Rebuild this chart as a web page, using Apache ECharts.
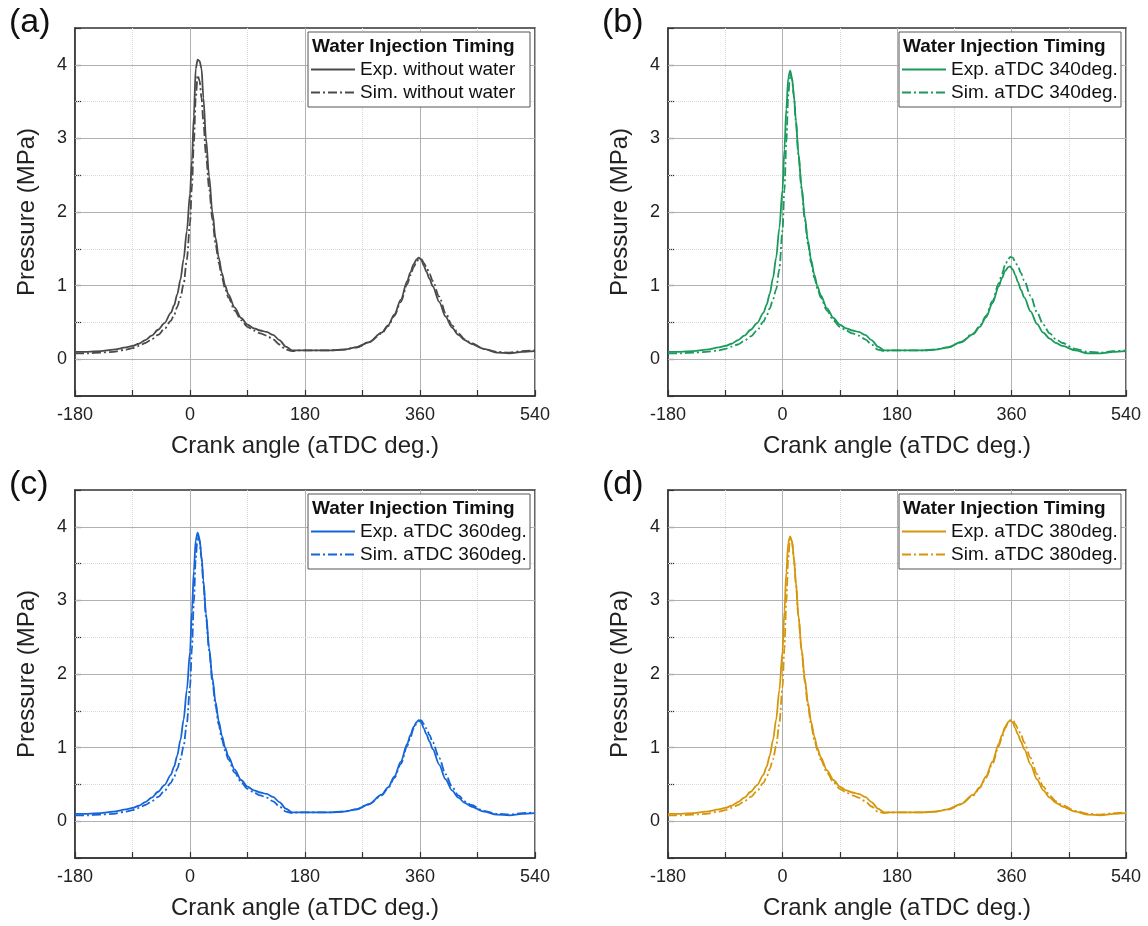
<!DOCTYPE html>
<html>
<head>
<meta charset="utf-8">
<script src="https://cdn.jsdelivr.net/npm/echarts@6/dist/echarts.min.js"></script>
<style>
  html, body { margin: 0; padding: 0; background: #fff; }
  #chart { width: 1148px; height: 926px; }
</style>
</head>
<body>
<div id="chart"></div>
<script>
// crank angle samples (aTDC deg.), shared by every curve
const angles = [-180, -160, -140, -120, -100, -90, -80, -70, -60, -50, -40, -30, -25, -20, -15, -10, -5, 0, 3, 6,
  9, 12, 15, 18, 21, 25, 30, 35, 40, 45, 50, 55, 60, 70, 80, 90, 100, 110, 120, 130,
  140, 150, 160, 170, 180, 200, 220, 240, 260, 280, 300, 310, 320, 330, 340, 345, 350, 355, 358, 362,
  366, 370, 375, 380, 390, 400, 410, 420, 430, 440, 460, 480, 500, 520, 540];

// (a) without water
const expA = [0.10, 0.10, 0.11, 0.13, 0.16, 0.18, 0.21, 0.26, 0.32, 0.40, 0.49, 0.63, 0.73, 0.88, 1.08, 1.36, 1.74, 2.25, 2.70, 3.30,
  3.95, 4.07, 4.05, 3.95, 3.55, 3.00, 2.48, 2.00, 1.65, 1.38, 1.17, 1.00, 0.88, 0.70, 0.56, 0.47, 0.42, 0.39, 0.37, 0.33,
  0.26, 0.17, 0.12, 0.12, 0.12, 0.12, 0.12, 0.13, 0.16, 0.23, 0.36, 0.46, 0.61, 0.81, 1.06, 1.18, 1.29, 1.36, 1.38, 1.35,
  1.27, 1.19, 1.09, 0.99, 0.78, 0.58, 0.43, 0.33, 0.26, 0.21, 0.14, 0.09, 0.08, 0.10, 0.11];
const simA = [0.08, 0.08, 0.09, 0.10, 0.13, 0.15, 0.18, 0.22, 0.27, 0.33, 0.41, 0.52, 0.60, 0.71, 0.84, 1.02, 1.35, 1.85, 2.35, 2.95,
  3.55, 3.86, 3.78, 3.55, 3.22, 2.78, 2.32, 1.90, 1.57, 1.31, 1.11, 0.96, 0.84, 0.66, 0.53, 0.44, 0.39, 0.35, 0.32, 0.27,
  0.20, 0.13, 0.11, 0.12, 0.12, 0.12, 0.12, 0.13, 0.16, 0.23, 0.35, 0.45, 0.59, 0.78, 1.02, 1.14, 1.25, 1.33, 1.36, 1.36,
  1.31, 1.25, 1.16, 1.06, 0.85, 0.63, 0.46, 0.35, 0.27, 0.22, 0.14, 0.10, 0.09, 0.11, 0.12];

// (b) aTDC 340deg.
const expB = [0.10, 0.10, 0.11, 0.13, 0.16, 0.18, 0.21, 0.26, 0.32, 0.40, 0.49, 0.63, 0.74, 0.89, 1.10, 1.38, 1.78, 2.30, 2.85, 3.40,
  3.82, 3.92, 3.82, 3.58, 3.25, 2.80, 2.34, 1.94, 1.61, 1.35, 1.15, 0.99, 0.87, 0.69, 0.56, 0.47, 0.42, 0.39, 0.37, 0.33,
  0.26, 0.17, 0.12, 0.12, 0.12, 0.12, 0.12, 0.13, 0.16, 0.23, 0.34, 0.44, 0.57, 0.76, 0.99, 1.10, 1.20, 1.25, 1.26, 1.22,
  1.14, 1.05, 0.94, 0.84, 0.65, 0.48, 0.36, 0.28, 0.22, 0.18, 0.12, 0.08, 0.08, 0.10, 0.11];
const simB = [0.08, 0.08, 0.09, 0.10, 0.12, 0.14, 0.17, 0.20, 0.25, 0.31, 0.39, 0.51, 0.59, 0.69, 0.81, 0.95, 1.22, 1.75, 2.30, 2.95,
  3.58, 3.88, 3.80, 3.56, 3.23, 2.78, 2.32, 1.90, 1.57, 1.31, 1.11, 0.96, 0.84, 0.66, 0.53, 0.44, 0.39, 0.35, 0.32, 0.27,
  0.20, 0.13, 0.11, 0.12, 0.12, 0.12, 0.12, 0.13, 0.16, 0.23, 0.35, 0.45, 0.59, 0.79, 1.03, 1.16, 1.28, 1.36, 1.39, 1.38,
  1.32, 1.26, 1.17, 1.07, 0.86, 0.64, 0.47, 0.35, 0.27, 0.22, 0.14, 0.10, 0.09, 0.11, 0.12];

// (c) aTDC 360deg.
const expC = [0.10, 0.10, 0.11, 0.13, 0.16, 0.18, 0.21, 0.26, 0.32, 0.40, 0.49, 0.63, 0.74, 0.89, 1.10, 1.38, 1.78, 2.30, 2.85, 3.40,
  3.82, 3.92, 3.84, 3.60, 3.27, 2.82, 2.35, 1.95, 1.62, 1.36, 1.16, 1.00, 0.88, 0.70, 0.56, 0.47, 0.42, 0.39, 0.37, 0.33,
  0.26, 0.17, 0.12, 0.12, 0.12, 0.12, 0.12, 0.13, 0.16, 0.23, 0.36, 0.46, 0.61, 0.81, 1.05, 1.17, 1.28, 1.35, 1.37, 1.34,
  1.26, 1.18, 1.08, 0.98, 0.77, 0.57, 0.42, 0.32, 0.25, 0.20, 0.13, 0.09, 0.08, 0.10, 0.11];
const simC = [0.08, 0.08, 0.09, 0.10, 0.13, 0.15, 0.18, 0.22, 0.27, 0.33, 0.41, 0.52, 0.60, 0.71, 0.84, 1.02, 1.33, 1.82, 2.35, 2.98,
  3.58, 3.88, 3.80, 3.56, 3.23, 2.78, 2.32, 1.90, 1.57, 1.31, 1.11, 0.96, 0.84, 0.66, 0.53, 0.44, 0.39, 0.35, 0.32, 0.27,
  0.20, 0.13, 0.11, 0.12, 0.12, 0.12, 0.12, 0.13, 0.16, 0.23, 0.35, 0.45, 0.59, 0.78, 1.02, 1.14, 1.26, 1.34, 1.37, 1.37,
  1.32, 1.26, 1.17, 1.07, 0.86, 0.64, 0.47, 0.35, 0.27, 0.22, 0.14, 0.10, 0.09, 0.11, 0.12];

// (d) aTDC 380deg.
const expD = [0.10, 0.10, 0.11, 0.13, 0.16, 0.18, 0.21, 0.26, 0.32, 0.40, 0.49, 0.63, 0.74, 0.89, 1.10, 1.38, 1.78, 2.30, 2.85, 3.38,
  3.78, 3.87, 3.80, 3.57, 3.25, 2.80, 2.34, 1.94, 1.61, 1.35, 1.15, 0.99, 0.87, 0.69, 0.56, 0.47, 0.42, 0.39, 0.37, 0.33,
  0.26, 0.17, 0.12, 0.12, 0.12, 0.12, 0.12, 0.13, 0.16, 0.23, 0.36, 0.46, 0.61, 0.81, 1.05, 1.17, 1.28, 1.35, 1.37, 1.34,
  1.26, 1.18, 1.08, 0.98, 0.77, 0.57, 0.42, 0.32, 0.25, 0.20, 0.13, 0.09, 0.08, 0.10, 0.11];
const simD = [0.08, 0.08, 0.09, 0.10, 0.13, 0.15, 0.18, 0.22, 0.27, 0.33, 0.41, 0.52, 0.60, 0.71, 0.84, 1.02, 1.33, 1.82, 2.35, 2.98,
  3.56, 3.85, 3.80, 3.56, 3.23, 2.78, 2.32, 1.90, 1.57, 1.31, 1.11, 0.96, 0.84, 0.66, 0.53, 0.44, 0.39, 0.35, 0.32, 0.27,
  0.20, 0.13, 0.11, 0.12, 0.12, 0.12, 0.12, 0.13, 0.16, 0.23, 0.35, 0.45, 0.59, 0.78, 1.02, 1.14, 1.26, 1.34, 1.37, 1.38,
  1.32, 1.26, 1.17, 1.07, 0.86, 0.64, 0.47, 0.35, 0.27, 0.22, 0.14, 0.10, 0.09, 0.11, 0.12];

// y grid values (solid major / dotted minor)
const yMajor = [0, 1, 2, 3, 4];
const yMinor = [0.5, 1.5, 2.5, 3.5];

const panels = [
  { tag: '(a)', color: '#4a4a4a', exp: expA, sim: simA, expName: 'Exp. without water', simName: 'Sim. without water', left: 75, top: 28, width: 460 },
  { tag: '(b)', color: '#1a9a5c', exp: expB, sim: simB, expName: 'Exp. aTDC 340deg.', simName: 'Sim. aTDC 340deg.', left: 668, top: 28, width: 458 },
  { tag: '(c)', color: '#1565d8', exp: expC, sim: simC, expName: 'Exp. aTDC 360deg.', simName: 'Sim. aTDC 360deg.', left: 75, top: 490, width: 460 },
  { tag: '(d)', color: '#d6960c', exp: expD, sim: simD, expName: 'Exp. aTDC 380deg.', simName: 'Sim. aTDC 380deg.', left: 668, top: 490, width: 458 },
];

const FONT = 'Liberation Sans, Arial, sans-serif';
const PH = 368; // plot height
const BOX_W = 222, BOX_H = 75;

const grid = [], xAxis = [], yAxis = [], series = [], title = [], legend = [], graphic = [];

panels.forEach((p, i) => {
  const boxLeft = p.left + p.width - 5 - BOX_W;
  const boxTop = p.top + 4;

  grid.push({
    left: p.left, top: p.top, width: p.width, height: PH,
    show: true, borderColor: '#333', borderWidth: 1.5, backgroundColor: 'transparent',
  });

  xAxis.push({
    type: 'value', gridIndex: i, min: -180, max: 540, interval: 180,
    name: 'Crank angle (aTDC deg.)', nameLocation: 'middle', nameGap: 38,
    nameTextStyle: { fontFamily: FONT, fontSize: 24, color: '#222' },
    axisLine: { show: true, onZero: false, lineStyle: { color: '#333', width: 1.5 } },
    axisTick: { show: true, inside: true, length: 6, lineStyle: { color: '#333', width: 1.2 } },
    minorTick: { show: true, splitNumber: 2, length: 6, lineStyle: { color: '#333', width: 1.2 } },
    axisLabel: { fontFamily: FONT, fontSize: 18, color: '#222', margin: 10 },
    splitLine: { show: true, lineStyle: { color: '#b0b0b0', width: 1 } },
    minorSplitLine: { show: true, lineStyle: { color: '#d8d8d8', width: 1, type: 'dotted' } },
  });

  yAxis.push({
    type: 'value', gridIndex: i, min: -0.5, max: 4.5, interval: 0.5,
    name: 'Pressure (MPa)', nameLocation: 'middle', nameGap: 36,
    nameTextStyle: { fontFamily: FONT, fontSize: 24, color: '#222' },
    axisLine: { show: true, onZero: false, lineStyle: { color: '#333', width: 1.5 } },
    axisTick: { show: true, inside: true, length: 6, lineStyle: { color: '#333', width: 1.2 } },
    axisLabel: {
      fontFamily: FONT, fontSize: 18, color: '#222', margin: 8,
      formatter: (v) => (Number.isInteger(v) && v >= 0 ? String(v) : ''),
    },
    splitLine: { show: false },
  });

  // grid lines for y come from the tick value lists above
  const gridLines = [
    ...yMajor.map((v) => ({ yAxis: v, lineStyle: { color: '#b0b0b0', width: 1, type: 'solid' } })),
    ...yMinor.map((v) => ({ yAxis: v, lineStyle: { color: '#d8d8d8', width: 1, type: 'dotted' } })),
  ];

  series.push({
    name: p.expName, type: 'line', xAxisIndex: i, yAxisIndex: i,
    symbol: 'none', smooth: 0.3, smoothMonotone: 'x', z: 3,
    lineStyle: { color: p.color, width: 1.8 },
    itemStyle: { color: p.color },
    data: angles.map((a, k) => [a, p.exp[k]]),
    markLine: { silent: true, symbol: 'none', z: 1, label: { show: false }, data: gridLines },
  });
  series.push({
    name: p.simName, type: 'line', xAxisIndex: i, yAxisIndex: i,
    symbol: 'none', smooth: 0.3, smoothMonotone: 'x', z: 3,
    lineStyle: { color: p.color, width: 1.8, type: [9, 3, 2, 3] },
    itemStyle: { color: p.color },
    data: angles.map((a, k) => [a, p.sim[k]]),
  });

  // panel tag
  title.push({
    text: p.tag, left: p.left - 66, top: p.top - 22, padding: 0,
    textStyle: { fontFamily: FONT, fontSize: 34, fontWeight: 'normal', color: '#111' },
  });
  // legend header
  title.push({
    text: 'Water Injection Timing', left: boxLeft + 4, top: boxTop + 5, padding: 0,
    textStyle: { fontFamily: FONT, fontSize: 19, fontWeight: 'bold', color: '#111' },
  });

  legend.push({
    data: [p.expName, p.simName], orient: 'vertical',
    left: boxLeft + 2, top: boxTop + 28, padding: 0, itemGap: 4,
    itemWidth: 44, itemHeight: 12,
    itemStyle: { opacity: 0 },
    textStyle: { fontFamily: FONT, fontSize: 19, color: '#111' },
  });

  graphic.push({
    type: 'rect', z: 4,
    shape: { x: boxLeft, y: boxTop, width: BOX_W, height: BOX_H },
    style: { fill: '#fff', stroke: '#555', lineWidth: 1 },
  });
});

const chart = echarts.init(document.getElementById('chart'), null, { renderer: 'canvas' });
chart.setOption({
  animation: false,
  backgroundColor: '#fff',
  grid, xAxis, yAxis, series, title, legend, graphic,
});
</script>
</body>
</html>
